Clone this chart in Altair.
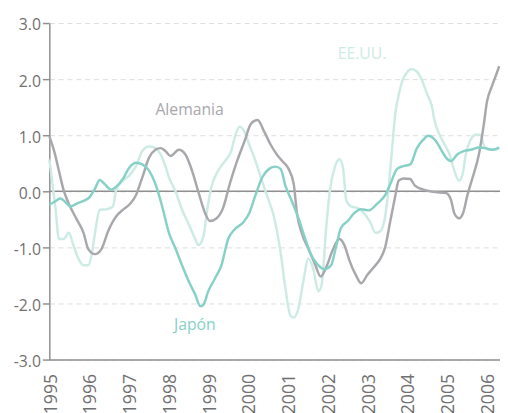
import altair as alt
import pandas as pd

# ---- data ----
de_x = [1995.0, 1995.12, 1995.24, 1995.36, 1995.49, 1995.69, 1995.86, 1995.98, 1996.15, 1996.31,
        1996.48, 1996.68, 1996.85, 1997.01, 1997.18, 1997.34, 1997.51, 1997.67, 1997.8, 1997.92,
        1998.05, 1998.26, 1998.42, 1998.59, 1998.75, 1998.92, 1999.04, 1999.21, 1999.37, 1999.54,
        1999.71, 1999.91, 2000.08, 2000.24, 2000.41, 2000.57, 2000.72, 2000.86, 2001.02, 2001.15,
        2001.23, 2001.35, 2001.52, 2001.68, 2001.83, 2001.97, 2002.14, 2002.30, 2002.43, 2002.55,
        2002.71, 2002.85, 2003.00, 2003.17, 2003.33, 2003.45, 2003.58, 2003.70, 2003.79, 2003.91,
        2004.08, 2004.20, 2004.41, 2004.65, 2004.98, 2005.11, 2005.19, 2005.31, 2005.41, 2005.52,
        2005.64, 2005.81, 2005.93, 2006.01, 2006.14, 2006.26, 2006.32]
de_y = [0.98, 0.72, 0.37, 0.02, -0.22, -0.50, -0.74, -1.03, -1.12, -1.03,
        -0.71, -0.45, -0.33, -0.24, -0.07, 0.25, 0.60, 0.74, 0.77, 0.72,
        0.63, 0.74, 0.66, 0.37, -0.01, -0.39, -0.53, -0.48, -0.30, 0.13,
        0.51, 0.89, 1.21, 1.27, 1.06, 0.83, 0.66, 0.54, 0.40, 0.13,
        -0.39, -0.74, -1.03, -1.29, -1.52, -1.35, -1.03, -0.85, -0.97, -1.23,
        -1.49, -1.64, -1.49, -1.35, -1.20, -1.00, -0.53, -0.10, 0.19, 0.23,
        0.22, 0.10, 0.03, -0.01, -0.03, -0.16, -0.39, -0.48, -0.39, -0.07,
        0.22, 0.66, 1.18, 1.59, 1.88, 2.11, 2.23]

jp_x = [1995.0, 1995.12, 1995.28, 1995.40, 1995.53, 1995.69, 1995.86, 1996.02, 1996.15, 1996.27,
        1996.39, 1996.56, 1996.68, 1996.85, 1997.01, 1997.18, 1997.34, 1997.51, 1997.67, 1997.84,
        1998.01, 1998.18, 1998.34, 1998.51, 1998.67, 1998.80, 1998.88, 1999.00, 1999.17, 1999.33,
        1999.50, 1999.66, 1999.87, 2000.03, 2000.20, 2000.36, 2000.53, 2000.69, 2000.82, 2000.94,
        2001.11, 2001.27, 2001.44, 2001.60, 2001.77, 2001.93, 2002.09, 2002.22, 2002.34, 2002.51,
        2002.67, 2002.84, 2003.04, 2003.25, 2003.45, 2003.58, 2003.75, 2003.91, 2004.08, 2004.25,
        2004.41, 2004.53, 2004.70, 2004.86, 2004.98, 2005.11, 2005.27, 2005.44, 2005.60, 2005.81,
        2005.97, 2006.14, 2006.32]
jp_y = [-0.24, -0.19, -0.13, -0.19, -0.27, -0.22, -0.17, -0.10, 0.05, 0.20,
        0.13, 0.03, 0.08, 0.22, 0.42, 0.51, 0.48, 0.37, 0.13, -0.27,
        -0.74, -1.03, -1.32, -1.61, -1.84, -2.05, -2.02, -1.78, -1.55, -1.32,
        -0.85, -0.68, -0.56, -0.39, -0.04, 0.25, 0.40, 0.44, 0.40, 0.10,
        -0.19, -0.48, -0.85, -1.15, -1.32, -1.39, -1.32, -0.97, -0.65, -0.53,
        -0.39, -0.32, -0.34, -0.22, -0.07, 0.13, 0.40, 0.45, 0.48, 0.77,
        0.92, 0.99, 0.92, 0.74, 0.60, 0.54, 0.66, 0.72, 0.74, 0.78,
        0.77, 0.74, 0.78]

us_x = [1995.0, 1995.07, 1995.16, 1995.24, 1995.36, 1995.49, 1995.61, 1995.73, 1995.86, 1995.98,
        1996.06, 1996.15, 1996.27, 1996.44, 1996.60, 1996.68, 1996.85, 1997.01, 1997.18, 1997.34,
        1997.51, 1997.67, 1997.80, 1997.92, 1998.01, 1998.18, 1998.34, 1998.51, 1998.67, 1998.75,
        1998.88, 1998.96, 1999.08, 1999.25, 1999.42, 1999.58, 1999.66, 1999.79, 1999.91, 2000.03,
        2000.16, 2000.32, 2000.49, 2000.65, 2000.82, 2000.94, 2001.07, 2001.15, 2001.27, 2001.39,
        2001.52, 2001.64, 2001.77, 2001.85, 2001.97, 2002.06, 2002.18, 2002.30, 2002.39, 2002.47,
        2002.59, 2002.76, 2002.92, 2003.08, 2003.21, 2003.33, 2003.45, 2003.54, 2003.62, 2003.70,
        2003.80, 2003.90, 2003.99, 2004.11, 2004.24, 2004.37, 2004.49, 2004.62, 2004.70, 2004.82,
        2004.95, 2005.07, 2005.19, 2005.31, 2005.40, 2005.48, 2005.60, 2005.73, 2005.85, 2005.93,
        2006.05, 2006.22, 2006.32]
us_y = [0.57, 0.19, -0.33, -0.85, -0.85, -0.74, -0.97, -1.20, -1.32, -1.32,
        -1.15, -0.74, -0.33, -0.32, -0.27, 0.02, 0.19, 0.28, 0.45, 0.72,
        0.80, 0.77, 0.66, 0.45, 0.25, -0.01, -0.33, -0.59, -0.85, -0.96,
        -0.80, -0.39, 0.08, 0.37, 0.54, 0.72, 0.95, 1.15, 1.06, 0.83,
        0.60, 0.25, -0.10, -0.45, -1.09, -1.73, -2.22, -2.25, -2.08, -1.61,
        -1.20, -1.38, -1.78, -1.67, -0.62, 0.02, 0.42, 0.57, 0.42, -0.16,
        -0.27, -0.30, -0.39, -0.56, -0.74, -0.71, -0.45, 0.08, 0.72, 1.35,
        1.75, 2.00, 2.11, 2.18, 2.14, 1.99, 1.76, 1.53, 1.24, 1.01,
        0.83, 0.66, 0.37, 0.19, 0.31, 0.66, 0.92, 1.01, 1.01, 0.83,
        0.74, 0.74, 0.78]

year_ticks = list(range(1995, 2007))
y_ticks = [-3, -2, -1, 0, 1, 2, 3]

label_names = ["Alemania", "EE.UU.", "Japón"]
label_x = [1998.53, 2002.87, 1998.66]
label_y = [1.45, 2.45, -2.39]

series_colors = {"Alemania": "#a8a7ac", "EE.UU.": "#cdebe5", "Japón": "#86d1c7"}
label_fonts = {"Alemania": "Open Sans", "EE.UU.": "Liberation Sans Narrow, Open Sans", "Japón": "Open Sans"}
label_sizes = {"Alemania": 16, "EE.UU.": 16, "Japón": 16}

# ---- build tables ----
rows = []
for name, xs, ys in [("EE.UU.", us_x, us_y), ("Alemania", de_x, de_y), ("Japón", jp_x, jp_y)]:
    for a, b in zip(xs, ys):
        rows.append({"serie": name, "anio": a, "valor": b})
df = pd.DataFrame(rows)
labels_df = pd.DataFrame({"serie": label_names, "anio": label_x, "valor": label_y})

FONT = "Open Sans"
x_scale = alt.Scale(domain=[1995, 2006.34], nice=False, zero=False)
y_scale = alt.Scale(domain=[-3, 3], nice=False)

x_axis = alt.Axis(values=year_ticks, format="d", labelAngle=270, title=None,
                  grid=False, ticks=False, tickSize=0, labelPadding=14,
                  labelOffset=2, domainColor="#8f8f8f", domainWidth=1.5,
                  labelColor="#707070", labelFontSize=18, labelFont=FONT)
y_axis = alt.Axis(values=y_ticks, title=None,
                  labelExpr="replace(format(datum.value, '.1f'), '\u2212', '-')",
                  grid=True, gridDash=[5, 4], gridColor="#dcdcdc", gridWidth=1,
                  tickColor="#8f8f8f", tickSize=7, tickWidth=1.5, labelPadding=2,
                  labelOffset=2,
                  domainColor="#8f8f8f", domainWidth=1.5,
                  labelColor="#707070", labelFontSize=16, labelFont=FONT)


def xe():
    return alt.X("anio:Q", scale=x_scale, axis=x_axis)


def ye():
    return alt.Y("valor:Q", scale=y_scale, axis=y_axis)


base = alt.Chart(df)
layers = []

zero = alt.Chart(pd.DataFrame({"valor": [0]})).mark_rule(color="#8f8f8f", strokeWidth=1.5).encode(y=ye())
layers.append(zero)

for name in ["EE.UU.", "Alemania", "Japón"]:
    layers.append(
        base.transform_filter(alt.datum.serie == name)
        .mark_line(color=series_colors[name], strokeWidth=2.5, interpolate="monotone")
        .encode(x=xe(), y=ye())
    )

for name in label_names:
    layers.append(
        alt.Chart(labels_df).transform_filter(alt.datum.serie == name)
        .mark_text(color=series_colors[name], font=label_fonts[name], fontSize=label_sizes[name],
                   align="center", baseline="middle")
        .encode(x=xe(), y=ye(), text="serie:N")
    )

chart = alt.layer(*layers).properties(
    width=458, height=342,
    autosize=alt.AutoSizeParams(type="none"),
    padding={"left": 42, "top": 12, "right": 0, "bottom": 51},
).configure_view(stroke=None)

chart.save("out.html", embed_options={"renderer": "svg", "actions": False})
